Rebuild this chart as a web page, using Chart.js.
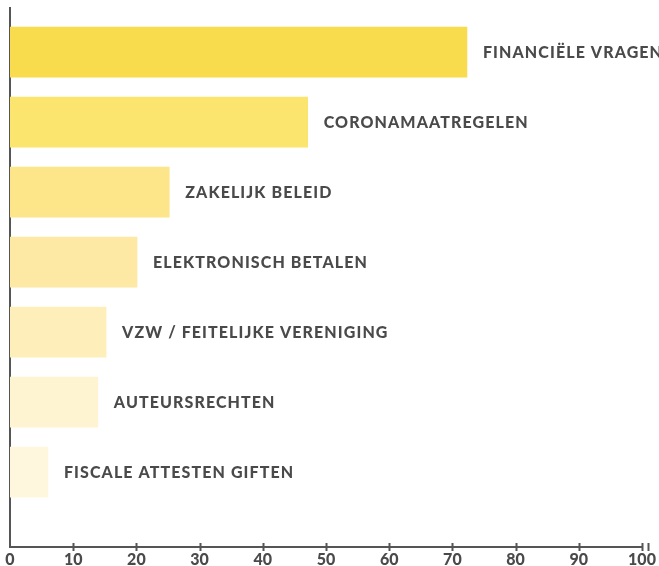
<!DOCTYPE html>
<html>
<head>
<meta charset="utf-8">
<script src="https://cdn.jsdelivr.net/npm/chart.js@4"></script>
<style>
  html, body { margin: 0; padding: 0; background: #fff; }
  #wrap { width: 659px; height: 566px; }
</style>
</head>
<body>
<div id="wrap"><canvas id="chart"></canvas></div>
<script>
const topics = [
  'FINANCIËLE VRAGEN',
  'CORONAMAATREGELEN',
  'ZAKELIJK BELEID',
  'ELEKTRONISCH BETALEN',
  'VZW / FEITELIJKE VERENIGING',
  'AUTEURSRECHTEN',
  'FISCALE ATTESTEN GIFTEN'
];
const shares = [72.3, 47.1, 25.2, 20.1, 15.2, 13.9, 6.0];
const barColors = ['#F9DC4E', '#FCE56E', '#FDE68A', '#FDE8A4', '#FEEFBA', '#FEF4D1', '#FEF7DE'];
const xTicks = [0, 10, 20, 30, 40, 50, 60, 70, 80, 90, 100];

const axisGrey = '#555555';
const textGrey = '#4a4a4a';

// labels to the right of each bar + tick marks crossing the axis line
const decor = {
  id: 'decor',
  afterDatasetsDraw(chart) {
    const ctx = chart.ctx;
    const meta = chart.getDatasetMeta(0);
    ctx.save();
    ctx.fillStyle = textGrey;
    ctx.font = '900 16px Lato';
    ctx.letterSpacing = '1.1px';
    ctx.textBaseline = 'middle';
    meta.data.forEach((bar, i) => {
      ctx.fillText(topics[i], bar.x + 16, bar.y + 1);
    });
    ctx.restore();

    const xs = chart.scales.x;
    const y0 = chart.chartArea.bottom;
    ctx.save();
    ctx.strokeStyle = axisGrey;
    ctx.lineWidth = 2;
    ctx.beginPath();
    xTicks.slice(1).forEach(v => {
      const px = Math.round(xs.getPixelForValue(v)) + 0.5;
      ctx.moveTo(px, y0 - 4);
      ctx.lineTo(px, y0 + 4);
    });
    const endPx = Math.round(xs.getPixelForValue(100)) + 6.5;
    ctx.moveTo(endPx, y0 - 4);
    ctx.lineTo(endPx, y0 + 4);
    ctx.stroke();
    ctx.restore();
  }
};

new Chart(document.getElementById('chart'), {
  type: 'bar',
  data: {
    datasets: [{
      data: shares.map((v, i) => ({ x: v, y: i })),
      backgroundColor: barColors,
      borderWidth: 0,
      barThickness: 50
    }]
  },
  options: {
    indexAxis: 'y',
    responsive: true,
    maintainAspectRatio: false,
    animation: false,
    layout: { padding: { left: 9, right: 17, top: 8, bottom: 0 } },
    plugins: {
      legend: { display: false },
      tooltip: { enabled: false }
    },
    scales: {
      x: {
        type: 'linear',
        min: 0,
        max: 100,
        afterBuildTicks(scale) {
          scale.ticks = xTicks.map(v => ({ value: v }));
        },
        afterFit(scale) { scale.height = 19; },
        grid: { display: false, drawTicks: false },
        border: { display: true, color: axisGrey, width: 2 },
        ticks: {
          padding: 3,
          maxRotation: 0,
          color: textGrey,
          font: { family: 'Lato', weight: '900', size: 16 }
        }
      },
      y: {
        type: 'linear',
        reverse: true,
        offset: false,
        bounds: 'data',
        min: -0.63,
        max: 7.07,
        afterFit(scale) { scale.width = 1; },
        grid: { display: false, drawTicks: false },
        border: { display: true, color: axisGrey, width: 2 },
        ticks: { display: false }
      }
    }
  },
  plugins: [decor]
});
</script>
</body>
</html>
